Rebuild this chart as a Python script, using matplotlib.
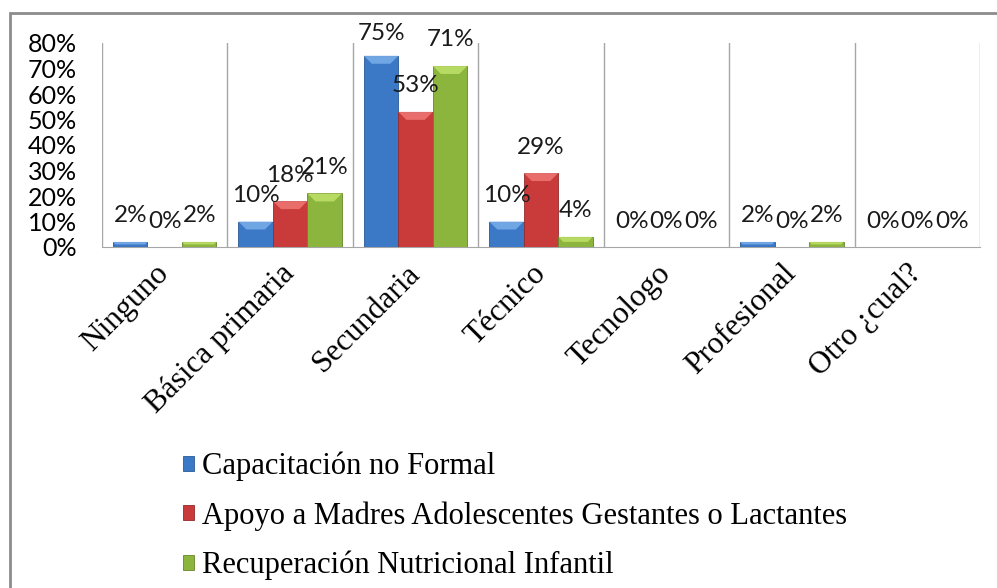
import matplotlib.pyplot as plt
import numpy as np
from matplotlib.patches import Polygon, Rectangle

# Datos del gráfico (porcentajes)
categorias = ["Ninguno", "Básica primaria", "Secundaria", "Técnico",
              "Tecnologo", "Profesional", "Otro ¿cual?"]
series = ["Capacitación no Formal",
          "Apoyo a Madres Adolescentes Gestantes o Lactantes",
          "Recuperación Nutricional Infantil"]
capacitacion = [2, 10, 75, 10, 0, 2, 0]
apoyo_madres = [0, 18, 53, 29, 0, 0, 0]
recuperacion = [2, 21, 71, 4, 0, 2, 0]

colores = ["#3b78c6", "#c93b3a", "#8cb53d"]
claros = ["#7fb2ee", "#f07a78", "#c2e46c"]
bordes = ["#2a5a96", "#962a2a", "#66852a"]

fig = plt.figure(figsize=(9.97, 5.88), dpi=100)
ax = fig.add_axes([102 / 997, 1 - 247 / 588, 878 / 997, 204 / 588])

x = np.arange(len(categorias))
ancho = 0.275
valores = [capacitacion, apoyo_madres, recuperacion]

ax.set_xlim(-0.5, len(categorias) - 0.5)
ax.set_ylim(0, 80)

# píxeles por unidad en cada eje
px_y = 204 / 80
px_x = 878 / len(categorias)

for i, vals in enumerate(valores):
    pos = x + (i - 1) * ancho
    barras = ax.bar(pos, vals, width=ancho, color=colores[i],
                    edgecolor=bordes[i], linewidth=0.6, label=series[i], zorder=3)
    for b, v in zip(barras, vals):
        if v <= 0:
            continue
        x0, w, h = b.get_x(), b.get_width(), b.get_height()
        bev = min(8 / px_y, h / 2)
        bx = bev * px_y / px_x
        ax.add_patch(Polygon([[x0, h], [x0 + w, h], [x0 + w - bx, h - bev],
                              [x0 + bx, h - bev]], closed=True,
                             facecolor=claros[i], edgecolor="none", alpha=0.8, zorder=4))
    # etiquetas de datos
    for xp, v in zip(pos, vals):
        yl = min(v + 26 / px_y, 80 + 9 / px_y)
        ax.text(xp, yl, f"{v}%", ha="center", va="center", fontsize=17.5,
                family="Lato", color="#1a1a1a", zorder=5, clip_on=False)

# separadores verticales entre categorías
for s in np.arange(-0.5, len(categorias), 1.0):
    ax.axvline(s, color="#a6a6a6", lw=1.0, zorder=1)

for lado in ["top", "right", "left"]:
    ax.spines[lado].set_visible(False)
ax.spines["bottom"].set_color("#a6a6a6")

ax.set_yticks(np.arange(0, 81, 10))
ax.set_yticklabels([f"{t}%" for t in range(0, 81, 10)], family="Lato", fontsize=18)
ax.tick_params(axis="y", length=0, pad=18)
ax.set_xticks(x)
ax.set_xticklabels(categorias, rotation=45, ha="right", va="center",
                   rotation_mode="anchor", family="Liberation Serif", fontsize=22.5)
ax.tick_params(axis="x", length=0, pad=16)

ax.legend(loc="center left", bbox_to_anchor=(183 / 997, 72 / 588),
          bbox_transform=fig.transFigure, frameon=False,
          prop={"family": "Liberation Serif", "size": 22},
          handlelength=0.37, handleheight=0.37, handletextpad=0.25,
          labelspacing=0.66, borderpad=0, borderaxespad=0)

# marco exterior del gráfico
fig.patches.append(Rectangle((10 / 997, -0.1), 1.1, 1 - 13 / 588 + 0.1,
                             transform=fig.transFigure, fill=False,
                             edgecolor="#8c8c8c", linewidth=2))

fig.savefig("out.png", dpi=100)
